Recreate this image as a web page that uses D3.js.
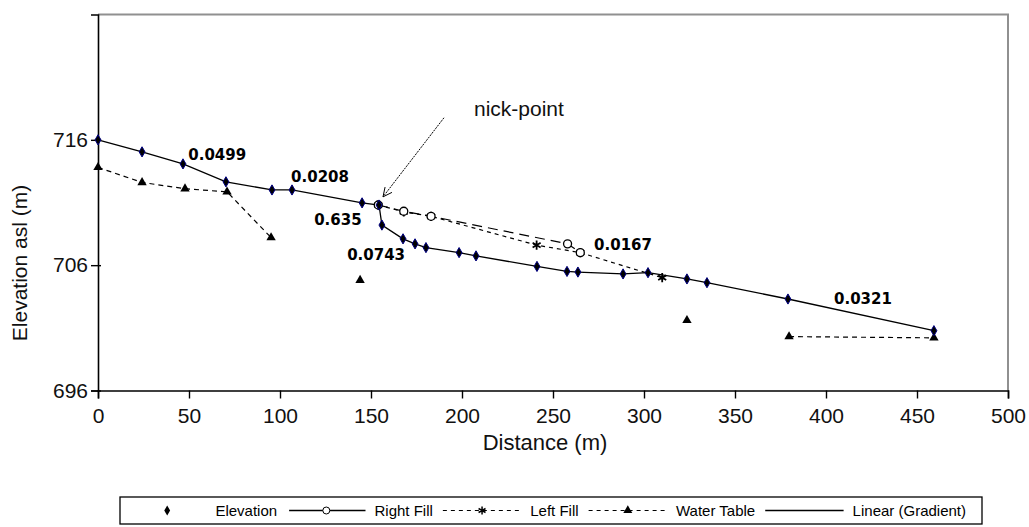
<!DOCTYPE html>
<html><head><meta charset="utf-8">
<script src="https://cdn.jsdelivr.net/npm/d3@7"></script>
<style>
html,body{margin:0;padding:0;background:#fff;}
svg{display:block;font-family:"Liberation Sans",Arial,sans-serif;}
</style></head>
<body><svg id="c" width="1029" height="527"></svg>
<script>
// ---- data ----
const elevX = [0, 24.2, 46.7, 70.3, 95.6, 106.6, 145.1, 154.4, 156.0, 167.6, 174.2, 180.2, 198.4, 207.7, 241.2, 257.7, 263.7, 288.5, 302.2, 323.6, 334.6, 379.1, 459.3];
const elevY = [716.0, 715.04, 714.08, 712.65, 712.0, 712.0, 710.97, 710.8, 709.2, 708.1, 707.7, 707.4, 707.0, 706.74, 705.9, 705.5, 705.45, 705.3, 705.4, 704.9, 704.6, 703.3, 700.77];
const rightFillX = [154, 168, 183, 258, 265];
const rightFillY = [710.8, 710.3, 709.9, 707.7, 707.0];
const leftFillX = [154, 168, 183, 241, 265, 310];
const leftFillY = [710.8, 710.25, 709.9, 707.6, 707.0, 705.0];
const waterX = [0, 24.2, 47.8, 70.9, 95.1, 120, 144, 230, 323.6, 350, 379.7, 459.3];
const waterY = [713.8, 712.6, 712.1, 711.85, 708.2, null, 704.8, null, 701.6, null, 700.3, 700.2];
const gradLabels = ["0.0499", "0.0208", "0.635", "0.0743", "0.0167", "0.0321"];
const gradLabelX = [65.5, 122, 131.8, 152.8, 288.5, 420.3];
const gradLabelY = [714.8, 713.05, 709.6, 706.8, 707.6, 703.3];
const xTicks = [0, 50, 100, 150, 200, 250, 300, 350, 400, 450, 500];
const yTicks = [696, 706, 716];
const legendLabels = ["Elevation", "Right Fill", "Left Fill", "Water Table", "Linear (Gradient)"];

// ---- chart ----
const svg = d3.select("#c");
const x = d3.scaleLinear().domain([0, 500]).range([98, 1008]);
const y = d3.scaleLinear().domain([696, 726]).range([390.5, 14.5]);

svg.append("path").attr("d", `M${x(0)},${y(726)}H${x(500)}V${y(696)}`)
  .attr("fill", "none").attr("stroke", "#909090").attr("stroke-width", 2);

const xa = svg.append("g").attr("transform", `translate(0,${y(696)})`)
  .call(d3.axisBottom(x).tickValues(xTicks).tickSize(8).tickPadding(10).tickFormat(d3.format("d")));
const ya = svg.append("g").attr("transform", `translate(${x(0)},0)`)
  .call(d3.axisLeft(y).tickValues(yTicks).tickSize(7).tickPadding(3).tickFormat(d3.format("d")));
[xa, ya].forEach(a => {
  a.select(".domain").attr("stroke", "#000").attr("stroke-width", 1.6);
  a.selectAll(".tick line").attr("stroke", "#000").attr("stroke-width", 1.4);
  a.selectAll("text").attr("font-size", 21).attr("fill", "#111").attr("font-family", "Liberation Sans, Arial, sans-serif");
});
ya.selectAll(".tick line").attr("x2", -7).attr("x1", 3);

svg.append("text").attr("x", 545).attr("y", 450).attr("text-anchor", "middle")
  .attr("font-size", 22).attr("fill", "#111").text("Distance  (m)");
svg.append("text").attr("transform", "translate(27,263) rotate(-90)").attr("text-anchor", "middle")
  .attr("font-size", 21).attr("fill", "#111").text("Elevation asl (m)");

const pts = (xs, ys) => xs.map((v, i) => ({x: v, y: ys[i]}));
const line = d3.line().defined(d => d.y != null).x(d => x(d.x)).y(d => y(d.y));

svg.append("path").datum(pts(waterX, waterY)).attr("d", line)
  .attr("fill", "none").attr("stroke", "#000").attr("stroke-width", 1.2).attr("stroke-dasharray", "5,4");
svg.append("path").datum(pts(leftFillX, leftFillY)).attr("d", line)
  .attr("fill", "none").attr("stroke", "#000").attr("stroke-width", 1.2).attr("stroke-dasharray", "4,4");
svg.append("path").datum(pts(rightFillX, rightFillY)).attr("d", line)
  .attr("fill", "none").attr("stroke", "#000").attr("stroke-width", 1.2).attr("stroke-dasharray", "10,6");
svg.append("path").datum(pts(elevX, elevY)).attr("d", line)
  .attr("fill", "none").attr("stroke", "#000").attr("stroke-width", 1.3);

const sym = (type, size) => d3.symbol().type(type).size(size)();
svg.append("g").selectAll("path").data(pts(waterX, waterY).filter(d => d.y != null)).join("path")
  .attr("transform", d => `translate(${x(d.x)},${y(d.y)})`).attr("d", sym(d3.symbolTriangle, 38)).attr("fill", "#000");
svg.append("g").selectAll("path").data(pts(leftFillX, leftFillY)).join("path")
  .attr("transform", d => `translate(${x(d.x)},${y(d.y)})`).attr("d", sym(d3.symbolAsterisk, 60))
  .attr("fill", "none").attr("stroke", "#000").attr("stroke-width", 1.8);
svg.append("g").selectAll("circle").data(pts(rightFillX, rightFillY)).join("circle")
  .attr("cx", d => x(d.x)).attr("cy", d => y(d.y)).attr("r", 4)
  .attr("fill", "#fff").attr("stroke", "#000").attr("stroke-width", 1.3);
svg.append("g").selectAll("path").data(pts(elevX, elevY)).join("path")
  .attr("transform", d => `translate(${x(d.x)},${y(d.y)})`).attr("d", sym(d3.symbolDiamond, 30))
  .attr("fill", "#000").attr("stroke", "#000080").attr("stroke-width", 1);

svg.append("g").selectAll("text").data(gradLabels).join("text")
  .attr("x", (d, i) => x(gradLabelX[i])).attr("y", (d, i) => y(gradLabelY[i]))
  .attr("text-anchor", "middle").attr("dominant-baseline", "central")
  .attr("font-family", "DejaVu Sans, sans-serif").attr("font-weight", "bold").attr("font-size", 15)
  .attr("fill", "#000").text(d => d);

// nick-point annotation
const ax0 = x(190.1), ay0 = y(717.76), ax1 = x(156.6), ay1 = y(711.45);
svg.append("line").attr("x1", ax0).attr("y1", ay0).attr("x2", ax1).attr("y2", ay1)
  .attr("stroke", "#000").attr("stroke-width", 1).attr("stroke-dasharray", "2,1");
const ang = Math.atan2(ay1 - ay0, ax1 - ax0);
const hl = 10;
svg.append("path").attr("d",
  `M${ax1 - hl * Math.cos(ang - 0.45)},${ay1 - hl * Math.sin(ang - 0.45)}L${ax1},${ay1}L${ax1 - hl * Math.cos(ang + 0.45)},${ay1 - hl * Math.sin(ang + 0.45)}`)
  .attr("fill", "none").attr("stroke", "#000").attr("stroke-width", 1);
svg.append("text").attr("x", x(206.6)).attr("y", y(717.9)).attr("font-size", 21).attr("fill", "#111").text("nick-point");

// legend
const lg = svg.append("g");
const boxL = 120, boxR = 982;
lg.append("rect").attr("x", boxL).attr("y", 497).attr("width", boxR - boxL).attr("height", 27)
  .attr("fill", "#fff").attr("stroke", "#000").attr("stroke-width", 1.3);
const ly = 510.5;
const texts = legendLabels.map(s => lg.append("text").attr("y", ly).attr("dominant-baseline", "central")
  .attr("font-size", 15).attr("fill", "#000").text(s));
const widths = texts.map(t => t.node().getComputedTextLength());
const gapT = 5, gapE = 6, startX = 124, endX = 966;
const S = (endX - startX - d3.sum(widths) - 5 * gapT - 4 * gapE) / 5;
let cx = startX;
const samples = [];
texts.forEach((t, i) => {
  samples.push([cx, cx + S]);
  t.attr("x", cx + S + gapT);
  cx += S + gapT + widths[i] + gapE;
});
const [s0, s1, s2, s3, s4] = samples;
const mid = s => (s[0] + s[1]) / 2;
lg.append("path").attr("transform", `translate(${mid(s0)},${ly})`).attr("d", sym(d3.symbolDiamond, 30)).attr("fill", "#000");
lg.append("line").attr("x1", s1[0] + 6).attr("x2", s1[1] - 4).attr("y1", ly).attr("y2", ly).attr("stroke", "#000").attr("stroke-width", 1.3);
lg.append("circle").attr("cx", mid(s1)).attr("cy", ly).attr("r", 3.5).attr("fill", "#fff").attr("stroke", "#000");
lg.append("line").attr("x1", s2[0] + 4).attr("x2", s2[1] - 4).attr("y1", ly).attr("y2", ly).attr("stroke", "#000").attr("stroke-dasharray", "4,4");
lg.append("path").attr("transform", `translate(${mid(s2)},${ly})`).attr("d", sym(d3.symbolAsterisk, 45)).attr("fill", "none").attr("stroke", "#000").attr("stroke-width", 1.5);
lg.append("line").attr("x1", s3[0] + 4).attr("x2", s3[1] - 4).attr("y1", ly).attr("y2", ly).attr("stroke", "#000").attr("stroke-dasharray", "4,4");
lg.append("path").attr("transform", `translate(${mid(s3)},${ly})`).attr("d", sym(d3.symbolTriangle, 35)).attr("fill", "#000");
lg.append("line").attr("x1", s4[0] + 4).attr("x2", s4[1] - 4).attr("y1", ly).attr("y2", ly).attr("stroke", "#000").attr("stroke-width", 1.4);
</script></body></html>
